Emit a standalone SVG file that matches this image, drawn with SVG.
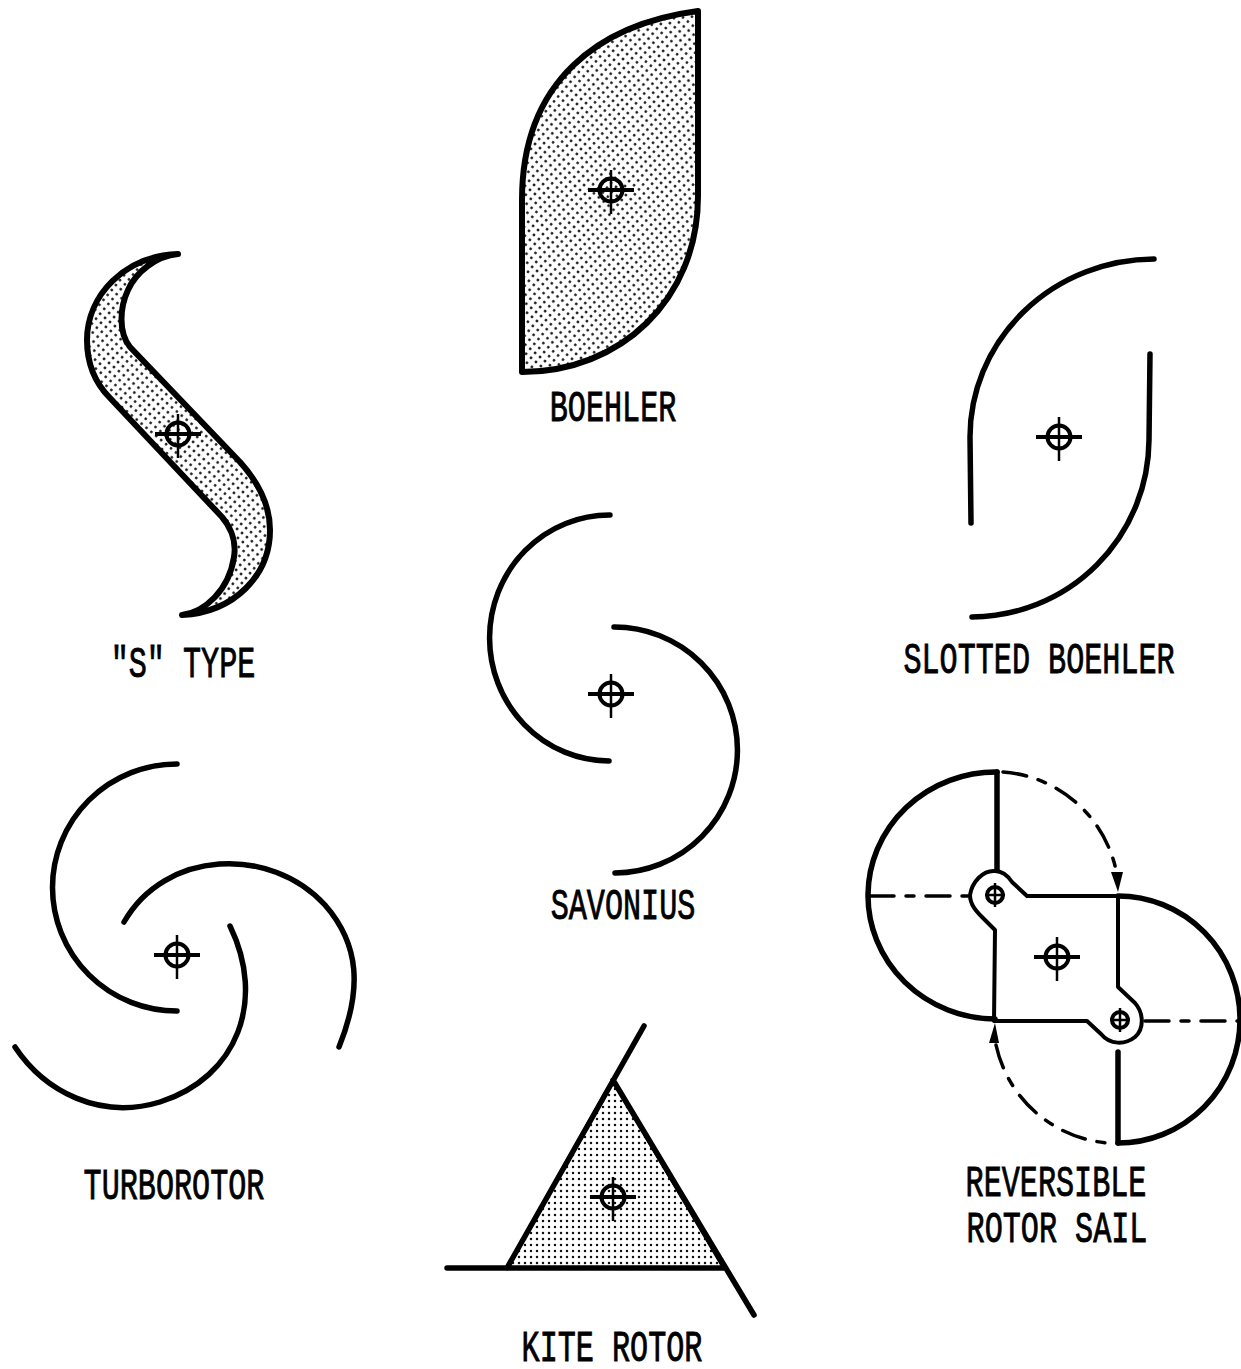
<svg xmlns="http://www.w3.org/2000/svg" width="1241" height="1369" viewBox="0 0 1241 1369">
<style>
.l{fill:none;stroke:#000;stroke-width:5.5;stroke-linecap:round;stroke-linejoin:round}
.m{fill:none;stroke:#000;stroke-width:4;stroke-linecap:round;stroke-linejoin:round}
.d{fill:none;stroke:#000;stroke-width:3.5;stroke-linecap:round}
.s{fill:url(#dots);stroke:#000;stroke-width:6;stroke-linejoin:round}
.k{fill:url(#dotsk);stroke:#000;stroke-width:4;stroke-linejoin:round}
.c{fill:none;stroke:#000;stroke-width:4}
.t{stroke-width:2.500}
text{font-family:"Liberation Mono","DejaVu Sans Mono",monospace;font-size:44px;fill:#000;stroke:#000;stroke-width:.9;text-anchor:middle}
</style>
<defs>
<pattern id="dots" width="6.400" height="6.400" patternUnits="userSpaceOnUse" patternTransform="rotate(40)"><rect width="6.400" height="6.400" fill="#fff"/><circle cx="3.200" cy="3.200" r="1.350" fill="#111"/></pattern>
<pattern id="dotsk" width="6" height="6" patternUnits="userSpaceOnUse"><rect width="6" height="6" fill="#fff"/><circle cx="3" cy="3" r="1.250" fill="#111"/></pattern>
<g id="hub"><circle r="11.500" class="c"/><path d="M-23 0H23M0-20V24" class="c"/></g>
<g id="hubt"><circle r="11.500" class="c"/><path d="M-23 0H23" class="c"/><path d="M0-20V24" class="c t"/></g>
<g id="hubs"><circle r="8" class="c"/><path d="M-10 0H10M0-12V12" class="c t"/></g>
</defs>
<g id="boehler">
<path class="s" d="M698 11C600 24 522 80 522 200V372C620 372 698 300 698 196Z"/>
<use href="#hubt" x="611" y="190"/>
<text transform="translate(613 421) scale(.685 1)">BOEHLER</text>
</g>
<g id="s-type">
<path class="s" d="M178 254C125 256 87 295 87 340C87 365 95 383 110 398L222 517C233 530 236 545 234 557C229 590 205 612 182 615C235 612 270 575 270 530C270 505 258 482 240 462L130 347C118 332 120 307 128 290C136 272 156 256 178 254Z"/>
<use href="#hubt" x="178" y="434"/>
<text transform="translate(183 677) scale(.685 1)">"S" TYPE</text>
</g>
<g id="slotted-boehler">
<path class="l" d="M1154 259A185 178 0 0 0 970 437L971 523"/>
<path class="l" d="M1150 354L1149 440A178 178 0 0 1 972 617"/>
<use href="#hubt" x="1059" y="437"/>
<text transform="translate(1039 673) scale(.685 1)">SLOTTED BOEHLER</text>
</g>
<g id="savonius">
<path class="l" d="M610 515A120 123 0 0 0 609 761"/>
<path class="l" d="M614 627A123 123 0 0 1 615 873"/>
<use href="#hubt" x="611" y="694"/>
<text transform="translate(623 919) scale(.685 1)">SAVONIUS</text>
</g>
<g id="turborotor">
<path class="l" d="M177 764A124.500 123.500 0 0 0 177 1011"/>
<path class="l" d="M124 922C165 850 270 845 325 905C360 945 362 990 339 1047"/>
<path class="l" d="M230 926C266 1000 238 1077 160 1102C100 1120 45 1092 15 1047"/>
<use href="#hubt" x="177" y="955"/>
<text transform="translate(174 1199) scale(.685 1)">TURBOROTOR</text>
</g>
<g id="kite-rotor">
<path class="k" d="M613 1080L507 1268H724Z"/>
<path class="l" d="M447 1268H724M507 1268L644 1026M613 1080L754 1315"/>
<use href="#hubt" x="613" y="1197"/>
<text transform="translate(612 1361) scale(.685 1)">KITE ROTOR</text>
</g>
<g id="reversible-rotor-sail">
<path class="l" d="M997 772A128 123.500 0 0 0 995 1019"/>
<path class="l" d="M1118 896A122 123.500 0 0 1 1118 1143"/>
<path class="l" d="M997 772V870"/>
<path class="l" d="M1118 1052V1143"/>
<path class="m" d="M995 871C983 870 972 882 970 895C970 905 977 912 982 917L995 930L994 1021H1087L1101 1034C1110 1045 1125 1045 1135 1037C1145 1028 1143 1012 1135 1003L1118 987V896L1027 896L1012 882C1008 876 1002 871 995 871Z"/>
<path class="d" stroke-dasharray="24 12 8 12" d="M1003 772A125 125 0 0 1 1117 875"/>
<path class="d" stroke-dasharray="24 12 8 12" d="M996 1045A125 125 0 0 0 1108 1143"/>
<path class="d" stroke-dasharray="24 12 8 12" d="M870 896H968"/>
<path class="d" stroke-dasharray="24 12 8 12" d="M1145 1021H1240"/>
<path d="M1111 872H1123L1118 892Z"/>
<path d="M989 1043H999L995 1023Z"/>
<use href="#hubs" x="995" y="895"/>
<use href="#hubs" x="1120" y="1020"/>
<use href="#hubt" x="1057" y="957"/>
<text transform="translate(1056 1196) scale(.685 1)">REVERSIBLE</text>
<text transform="translate(1057 1242) scale(.685 1)">ROTOR SAIL</text>
</g>
</svg>
